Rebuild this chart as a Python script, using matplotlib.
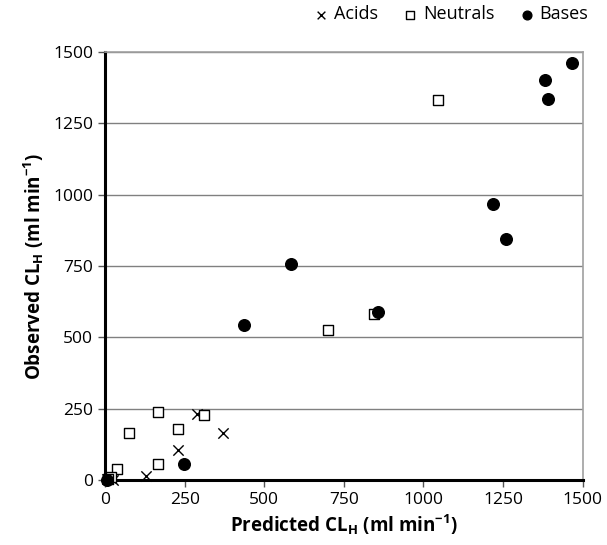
import matplotlib
matplotlib.use('Agg')
import matplotlib.pyplot as plt

plt.rcParams['font.family'] = ['Open Sans', 'DejaVu Sans']
plt.rcParams['mathtext.fontset'] = 'custom'
plt.rcParams['mathtext.rm'] = 'Open Sans'
plt.rcParams['mathtext.bf'] = 'Open Sans:bold'

# Predicted vs observed hepatic clearance (ml/min)
acids_pred = [290, 371, 230, 129, 5, 10, 20, 25]
acids_obs = [230, 166, 105, 15, 3, 5, 8, 2]

neutrals_pred = [1045, 700, 845, 167, 76, 230, 312, 167, 37, 20, 10]
neutrals_obs = [1330, 525, 582, 238, 166, 178, 228, 55, 38, 10, 5]

bases_pred = [1466, 1380, 1392, 1218, 1260, 585, 857, 437, 248, 5]
bases_obs = [1460, 1400, 1333, 966, 843, 757, 588, 543, 57, 2]

ticks = [0, 250, 500, 750, 1000, 1250, 1500]

fig = plt.figure(figsize=(6.07, 5.45), dpi=100)
ax = fig.add_axes([0.173, 0.119, 0.787, 0.786])

ax.scatter(acids_pred, acids_obs, marker='x', s=55, c='black', linewidths=1.0,
           label='Acids', zorder=3, clip_on=False)
ax.scatter(neutrals_pred, neutrals_obs, marker='s', s=60, facecolors='white',
           edgecolors='black', linewidths=1.0, label='Neutrals', zorder=3, clip_on=False)
ax.scatter(bases_pred, bases_obs, marker='o', s=70, c='black',
           label='Bases', zorder=3, clip_on=False)

ax.set_xlim(0, 1500)
ax.set_ylim(0, 1500)
ax.set_xticks(ticks)
ax.set_yticks(ticks)
ax.tick_params(labelsize=12.5, direction='out', length=5, width=1, colors='#555555',
               labelcolor='black')

ax.yaxis.grid(True, color='#808080', linewidth=1)
ax.set_axisbelow(True)
for side in ['top', 'right']:
    ax.spines[side].set_color('#a0a0a0')
    ax.spines[side].set_linewidth(1.2)
for side in ['left', 'bottom']:
    ax.spines[side].set_color('black')
    ax.spines[side].set_linewidth(2.2)

ax.set_xlabel('Predicted CL$_\\mathregular{H}$ (ml min$^\\mathregular{\u22121}$)',
              fontsize=13.5, fontweight='bold', labelpad=3)
ax.set_ylabel('Observed CL$_\\mathregular{H}$ (ml min$^\\mathregular{\u22121}$)',
              fontsize=13.5, fontweight='bold', labelpad=5)

leg = ax.legend(loc='lower right', bbox_to_anchor=(1.03, 1.045), ncol=3, frameon=False,
                fontsize=13, markerscale=0.75, handletextpad=0.2, columnspacing=1.3,
                handlelength=1.0, borderpad=0)

fig.savefig('out.png', dpi=100)
